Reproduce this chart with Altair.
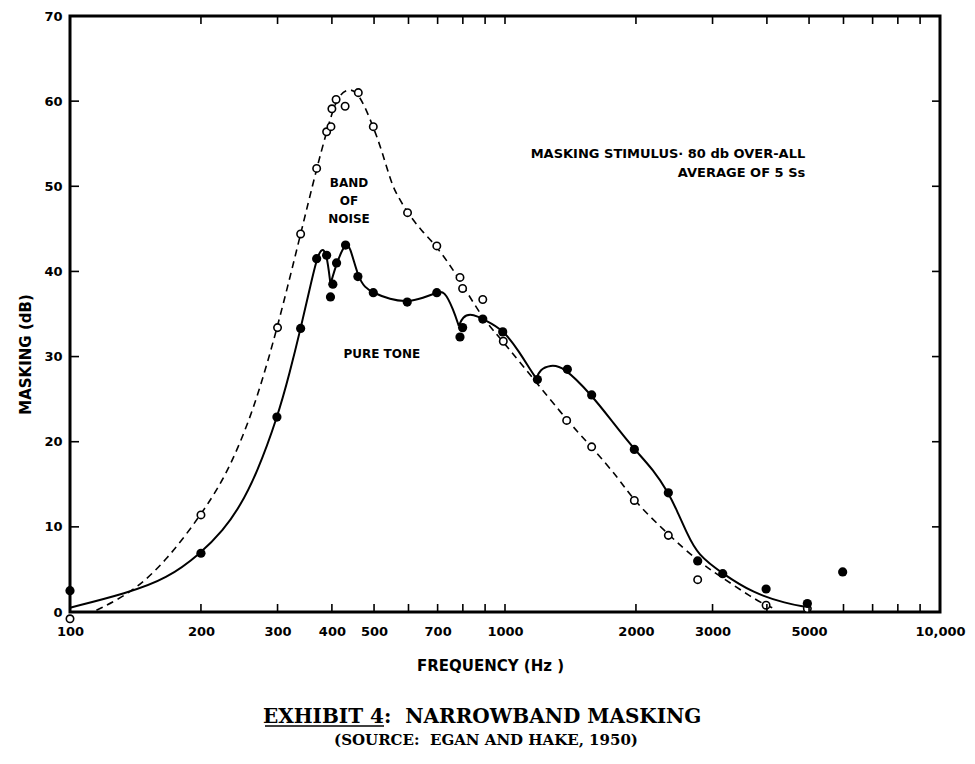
import altair as alt
import pandas as pd

# ---- measured points: band of noise (open circles) ----
noise_freq = [100, 200, 300, 339, 369, 389, 398, 400, 409, 429, 460, 498, 597, 697,
              788, 799, 889, 991, 1386, 1582, 1983, 2374, 2773, 3983, 4955]
noise_db = [-0.8, 11.4, 33.4, 44.4, 52.1, 56.4, 57.0, 59.1, 60.2, 59.4, 61.0, 57.0, 46.9, 43.0,
            39.3, 38.0, 36.7, 31.8, 22.5, 19.4, 13.1, 9.0, 3.8, 0.8, 0.4]

# ---- measured points: pure tone (filled circles) ----
tone_freq = [100, 200, 299, 339, 369, 389, 397, 402, 410, 430, 459, 498, 596, 697,
             788, 799, 889, 988, 1187, 1391, 1582, 1983, 2374, 2773, 3166, 3983, 4955, 5974]
tone_db = [2.5, 6.9, 22.9, 33.3, 41.5, 41.9, 37.0, 38.5, 41.0, 43.1, 39.4, 37.5, 36.4, 37.5,
           32.3, 33.4, 34.4, 32.9, 27.3, 28.5, 25.5, 19.1, 14.0, 6.0, 4.5, 2.7, 1.0, 4.7]

# ---- fitted curve (dashed) for band of noise ----
noise_curve_freq = [115, 140, 167, 200, 225, 246, 269, 300, 339, 369, 389, 409, 433, 460, 498,
                    521, 549, 569, 597, 644, 697, 788, 889, 991, 1386, 1582, 1838, 1983, 2374,
                    2773, 3122, 3723, 3983, 4200]
noise_curve_db = [0.2, 2.4, 6.1, 11.4, 15.5, 19.8, 25.0, 33.4, 44.4, 52.1, 56.4, 60.3, 61.5, 61.2, 57.0,
                  54.2, 50.2, 48.7, 46.9, 44.7, 43.0, 39.0, 34.4, 31.8, 22.5, 19.4, 15.5, 13.0, 9.1,
                  6.0, 4.2, 1.6, 0.8, 0.3]

# ---- fitted curve (solid) for pure tone, in pieces joined at cusps ----
tone_seg1_freq = [100, 135, 167, 200, 225, 246, 269, 300, 320, 339, 354, 369, 379, 389, 397]
tone_seg1_db = [0.5, 2.2, 3.9, 6.9, 9.6, 12.4, 16.3, 22.9, 28.1, 33.3, 37.5, 41.5, 42.8, 42.2, 38.5]
tone_seg2_freq = [397, 410, 430, 440, 459, 476, 498, 544, 596, 649, 697, 725, 761, 783]
tone_seg2_db = [38.5, 41.0, 43.4, 43.0, 39.4, 38.1, 37.5, 36.7, 36.4, 36.9, 37.5, 37.8, 35.5, 33.6]
tone_seg3_freq = [783, 800, 831, 868, 889, 991, 1083, 1142, 1181]
tone_seg3_db = [33.6, 34.7, 35.0, 34.7, 34.4, 33.2, 30.4, 28.5, 27.4]
tone_seg4_freq = [1181, 1203, 1271, 1358, 1582, 1774, 1983, 2193, 2374, 2481, 2617, 2773,
                  3166, 3723, 4442, 4907]
tone_seg4_db = [27.4, 28.5, 29.0, 28.9, 25.5, 22.2, 19.1, 16.7, 14.0, 12.0, 9.3, 6.7,
                4.5, 2.2, 1.0, 0.6]

# ---- axes ----
x_label_values = [100, 200, 300, 400, 500, 700, 1000, 2000, 3000, 5000, 10000]
x_tick_values = [100, 200, 300, 400, 500, 600, 700, 800, 900,
                 1000, 2000, 3000, 4000, 5000, 6000, 7000, 8000, 9000, 10000]
y_tick_values = [0, 10, 20, 30, 40, 50, 60, 70]

# ---- annotations ----
ann_text = ["BAND", "OF", "NOISE", "PURE TONE"]
ann_freq = [438, 438, 438, 521]
ann_db = [50.4, 48.3, 46.1, 30.3]
stim_text = ["MASKING STIMULUS\u00b7 80 db OVER-ALL", "AVERAGE OF 5 Ss"]
stim_freq = [4900, 4900]
stim_db = [53.8, 51.6]
title_a = "EXHIBIT 4"
title_b = ":\u00a0\u00a0NARROWBAND MASKING"
subtitle = "(SOURCE:\u00a0\u00a0EGAN AND HAKE, 1950)"

W, H = 870, 596
FONT = "DejaVu Sans"
SERIF = "DejaVu Serif"

noise_pts = pd.DataFrame({"f": noise_freq, "m": noise_db})
tone_pts = pd.DataFrame({"f": tone_freq, "m": tone_db})
noise_curve = pd.DataFrame({"f": noise_curve_freq, "m": noise_curve_db})
tone_curve = pd.concat([
    pd.DataFrame({"f": tone_seg1_freq, "m": tone_seg1_db, "seg": 1}),
    pd.DataFrame({"f": tone_seg2_freq, "m": tone_seg2_db, "seg": 2}),
    pd.DataFrame({"f": tone_seg3_freq, "m": tone_seg3_db, "seg": 3}),
    pd.DataFrame({"f": tone_seg4_freq, "m": tone_seg4_db, "seg": 4}),
], ignore_index=True)
xt = pd.DataFrame({"f": x_tick_values})
yt = pd.DataFrame({"m": y_tick_values})
ann = pd.DataFrame({"f": ann_freq, "m": ann_db, "t": ann_text})
stim = pd.DataFrame({"f": stim_freq, "m": stim_db, "t": stim_text})

xs = alt.Scale(type="log", domain=[100, 10000], nice=False)
ys = alt.Scale(domain=[0, 70], nice=False)

xaxis = alt.Axis(values=x_label_values, format="d",
                 labelExpr="datum.value == 10000 ? '10,000' : datum.label",
                 ticks=False, tickSize=0, domain=False, grid=False,
                 labelPadding=13, labelFont=FONT, labelFontSize=13, labelFontWeight="bold",
                 labelColor="black", labelFlush=False,
                 title="FREQUENCY (Hz )", titleFont=FONT, titleFontSize=15, titleFontWeight="bold",
                 titleColor="black", titlePadding=20, titleX=420)
yaxis = alt.Axis(values=y_tick_values, ticks=False, tickSize=0, domain=False, grid=False,
                 labelPadding=8, labelFont=FONT, labelFontSize=13, labelFontWeight="bold",
                 labelColor="black", labelFlush=False,
                 title="MASKING (dB)", titleFont=FONT, titleFontSize=15, titleFontWeight="bold",
                 titleColor="black", titlePadding=10, titleY=338)


def X(field="f"):
    return alt.X(f"{field}:Q", scale=xs, axis=xaxis)


def Y(field="m"):
    return alt.Y(f"{field}:Q", scale=ys, axis=yaxis)


noise_line = alt.Chart(noise_curve).mark_line(
    interpolate="basis", color="black", strokeWidth=1.6, strokeDash=[7, 5]
).encode(x=X(), y=Y())

tone_line = alt.Chart(tone_curve).mark_line(
    interpolate="basis", color="black", strokeWidth=2
).encode(x=X(), y=Y(), detail="seg:N")

noise_marks = alt.Chart(noise_pts).mark_point(
    shape="circle", filled=True, fill="white", stroke="black", strokeWidth=1.6, size=55, opacity=1
).encode(x=X(), y=Y())

tone_marks = alt.Chart(tone_pts).mark_point(
    shape="circle", filled=True, color="black", size=85, opacity=1
).encode(x=X(), y=Y())

xt_bottom = alt.Chart(xt).mark_rule(color="black", strokeWidth=1.6).encode(
    x=X(), y=alt.value(H), y2=alt.value(H - 8))
xt_top = alt.Chart(xt).mark_rule(color="black", strokeWidth=1.6).encode(
    x=X(), y=alt.value(0), y2=alt.value(8))
yt_left = alt.Chart(yt).mark_rule(color="black", strokeWidth=1.6).encode(
    y=Y(), x=alt.value(0), x2=alt.value(9))
yt_right = alt.Chart(yt).mark_rule(color="black", strokeWidth=1.6).encode(
    y=Y(), x=alt.value(W), x2=alt.value(W - 8))

ann_layer = alt.Chart(ann).mark_text(
    font=FONT, fontSize=12, fontWeight="bold", color="black", align="center", baseline="middle"
).encode(x=X(), y=Y(), text="t:N")

stim_layer = alt.Chart(stim).mark_text(
    font=FONT, fontSize=13, fontWeight="bold", color="black", align="right", baseline="middle"
).encode(x=X(), y=Y(), text="t:N")

title_left = alt.Chart(pd.DataFrame({"t": [title_a]})).mark_text(
    font=SERIF, fontSize=20, fontWeight="bold", color="black", align="right", baseline="alphabetic"
).encode(x=alt.value(314), y=alt.value(707), text="t:N")

title_right = alt.Chart(pd.DataFrame({"t": [title_b]})).mark_text(
    font=SERIF, fontSize=20, fontWeight="bold", color="black", align="left", baseline="alphabetic"
).encode(x=alt.value(314), y=alt.value(707), text="t:N")

sub_layer = alt.Chart(pd.DataFrame({"t": [subtitle]})).mark_text(
    font=SERIF, fontSize=15, fontWeight="bold", color="black", align="center", baseline="alphabetic"
).encode(x=alt.value(416), y=alt.value(729), text="t:N")

underline = alt.Chart(pd.DataFrame({"t": [0]})).mark_rule(color="black", strokeWidth=1.5).encode(
    x=alt.value(195), x2=alt.value(314), y=alt.value(710))

chart = alt.layer(
    noise_line, tone_line, noise_marks, tone_marks,
    xt_bottom, xt_top, yt_left, yt_right,
    ann_layer, stim_layer, title_left, title_right, sub_layer, underline
).properties(
    width=W, height=H,
    autosize=alt.AutoSizeParams(type="none"),
    padding={"left": 62, "top": 8, "right": 27, "bottom": 140},
).configure_view(
    stroke="black", strokeWidth=3
)

chart.save("out.html", embed_options={"renderer": "svg", "actions": False})
